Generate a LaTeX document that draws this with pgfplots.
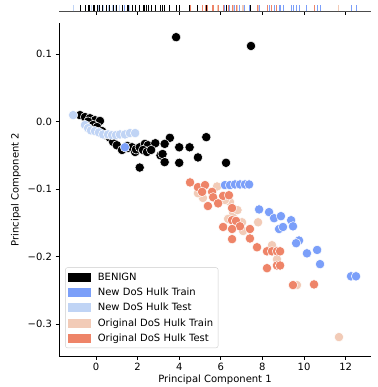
\documentclass[border=0pt]{standalone}
\usepackage{fontspec}
\setmainfont{DejaVu Sans}
\usepackage{pgfplots}
\usepackage{pgfplotstable}
\pgfplotsset{compat=1.18}
\definecolor{newtrain}{HTML}{7B9FF9}
\definecolor{newtest}{HTML}{C0D4F5}
\definecolor{origtrain}{HTML}{F2CBB7}
\definecolor{origtest}{HTML}{EE8468}

\pgfplotstableread{
x y
-0.77 0.0096
-0.53 0.0067
-0.29 0.005
-0.05 0.002
0.19 0.001
-0.38 0.0
-0.14 -0.005
0.05 -0.008
0.29 -0.014
0.48 -0.02
0.67 -0.024
0.82 -0.03
1.0 -0.035
1.25 -0.042
1.54 -0.039
1.5 -0.036
1.73 -0.038
1.88 -0.045
1.92 -0.041
2.1 -0.038
2.35 -0.033
2.5 -0.035
2.85 -0.032
3.1 -0.05
2.26 -0.042
2.1 -0.068
3.2 -0.048
3.55 -0.024
3.3 -0.033
2.45 -0.045
4.0 -0.038
4.5 -0.038
4.9 -0.053
3.3 -0.06
4.0 -0.061
5.3 -0.023
6.25 -0.061
2.65 -0.042
3.85 0.125
7.45 0.112
}\benign

\pgfplotstableread{
x y
5.82 -0.096
5.14 -0.113
4.90 -0.106
6.44 -0.119
6.59 -0.136
6.35 -0.144
7.02 -0.149
7.07 -0.162
7.79 -0.149
8.46 -0.183
8.70 -0.204
9.66 -0.242
11.68 -0.319
6.2 -0.116
6.8 -0.131
}\origtrain

\pgfplotstableread{
x y
4.52 -0.090
4.90 -0.097
5.24 -0.094
5.10 -0.104
5.58 -0.104
5.63 -0.112
6.11 -0.110
6.39 -0.109
5.38 -0.125
5.87 -0.121
6.54 -0.128
6.11 -0.156
6.54 -0.146
6.73 -0.147
6.92 -0.155
6.54 -0.159
7.40 -0.159
6.54 -0.174
7.40 -0.173
7.74 -0.186
8.22 -0.192
8.46 -0.192
8.70 -0.192
8.85 -0.192
8.22 -0.217
8.70 -0.213
8.85 -0.213
9.47 -0.242
10.48 -0.241
}\origtest

\pgfplotstableread{
x y
1.39 -0.038
6.2 -0.094
6.44 -0.094
6.68 -0.093
6.92 -0.093
7.16 -0.093
7.36 -0.093
7.84 -0.130
8.32 -0.134
8.56 -0.143
8.89 -0.140
9.38 -0.146
8.8 -0.159
8.99 -0.156
9.47 -0.155
9.76 -0.176
9.62 -0.180
10.14 -0.195
10.63 -0.190
10.77 -0.211
12.26 -0.229
12.5 -0.229
}\newtrain

\pgfplotstableread{
x y
-1.1 0.0096
-0.53 -0.005
-0.38 -0.0096
-0.24 -0.013
-0.05 -0.014
0.14 -0.016
0.34 -0.019
0.58 -0.019
0.77 -0.020
0.96 -0.020
1.15 -0.019
1.39 -0.019
1.63 -0.017
1.88 -0.017
}\newtest

\begin{document}
\begin{tikzpicture}
\useasboundingbox (0,0) rectangle (377pt,387pt);
\begin{axis}[
  at={(59pt,31pt)}, anchor=south west, scale only axis,
  width=312pt, height=333pt,
  xmin=-1.78, xmax=13.22, ymin=-0.347, ymax=0.146,
  axis x line*=bottom, axis y line*=left,
  axis line style={-, line width=0.8pt},
  xtick={0,2,...,12}, xticklabels={0,2,4,6,8,10,12},
  ytick={-0.3,-0.2,-0.1,0,0.1}, yticklabels={−0.3,−0.2,−0.1,0.0,0.1},
  tick align=outside, major tick length=3.5pt,
  tick style={line width=0.8pt, black},
  tick label style={font=\fontsize{10}{12}\selectfont},
  label style={font=\fontsize{10}{12}\selectfont},
  xlabel={Principal Component 1}, ylabel={Principal Component 2},
  xlabel style={yshift=3pt},
  legend style={at={(0.02,0.024)}, anchor=south west, draw=black!20, rounded corners=2pt,
    fill=white, fill opacity=0.8, draw opacity=1, text opacity=1, font=\fontsize{10}{12}\selectfont,
    row sep=2.2pt, inner xsep=3pt, inner ysep=3pt},
  legend cell align=left,
  legend image code/.code={\fill[#1, fill opacity=1, sharp corners] (0pt,-4pt) rectangle (22pt,4pt); \path (27pt,0pt);},
]
\addlegendimage{black}
\addlegendentry{BENIGN}
\addlegendimage{newtrain}
\addlegendentry{New DoS Hulk Train}
\addlegendimage{newtest}
\addlegendentry{New DoS Hulk Test}
\addlegendimage{origtrain}
\addlegendentry{Original DoS Hulk Train}
\addlegendimage{origtest}
\addlegendentry{Original DoS Hulk Test}
\addplot[only marks, mark=*, mark size=4.7pt, mark options={fill=black, draw=white, line width=0.5pt}, forget plot] table[x=x,y=y] {\benign};
\addplot[only marks, mark=*, mark size=4.7pt, mark options={fill=origtrain, draw=white, line width=0.5pt}, forget plot] table[x=x,y=y] {\origtrain};
\addplot[only marks, mark=*, mark size=4.7pt, mark options={fill=origtest, draw=white, line width=0.5pt}, forget plot] table[x=x,y=y] {\origtest};
\addplot[only marks, mark=*, mark size=4.7pt, mark options={fill=newtrain, draw=white, line width=0.5pt}, forget plot] table[x=x,y=y] {\newtrain};
\addplot[only marks, mark=*, mark size=4.7pt, mark options={fill=newtest, draw=white, line width=0.5pt}, forget plot] table[x=x,y=y] {\newtest};
\end{axis}
\begin{axis}[
  at={(59pt,375.5pt)}, anchor=south west, scale only axis,
  width=312pt, height=6.5pt,
  xmin=-1.78, xmax=13.22, ymin=0, ymax=1,
  axis x line*=bottom, axis y line=none,
  axis line style={-, line width=0.8pt, black!70},
  xtick={0,2,...,12}, xticklabels={},
  tick align=outside, major tick length=3.5pt,
  tick style={line width=0.8pt, black},
  clip=false,
]
\addplot[ycomb, mark=none, origtrain, line width=1pt] table[x=x, y expr=1] {\origtrain};
\addplot[ycomb, mark=none, origtest, line width=1pt] table[x=x, y expr=1] {\origtest};
\addplot[ycomb, mark=none, newtest, line width=1pt] table[x=x, y expr=1] {\newtest};
\addplot[ycomb, mark=none, newtrain, line width=1pt] table[x=x, y expr=1] {\newtrain};
\addplot[ycomb, mark=none, black, line width=1pt] table[x=x, y expr=1] {\benign};
\end{axis}
\end{tikzpicture}
\end{document}
